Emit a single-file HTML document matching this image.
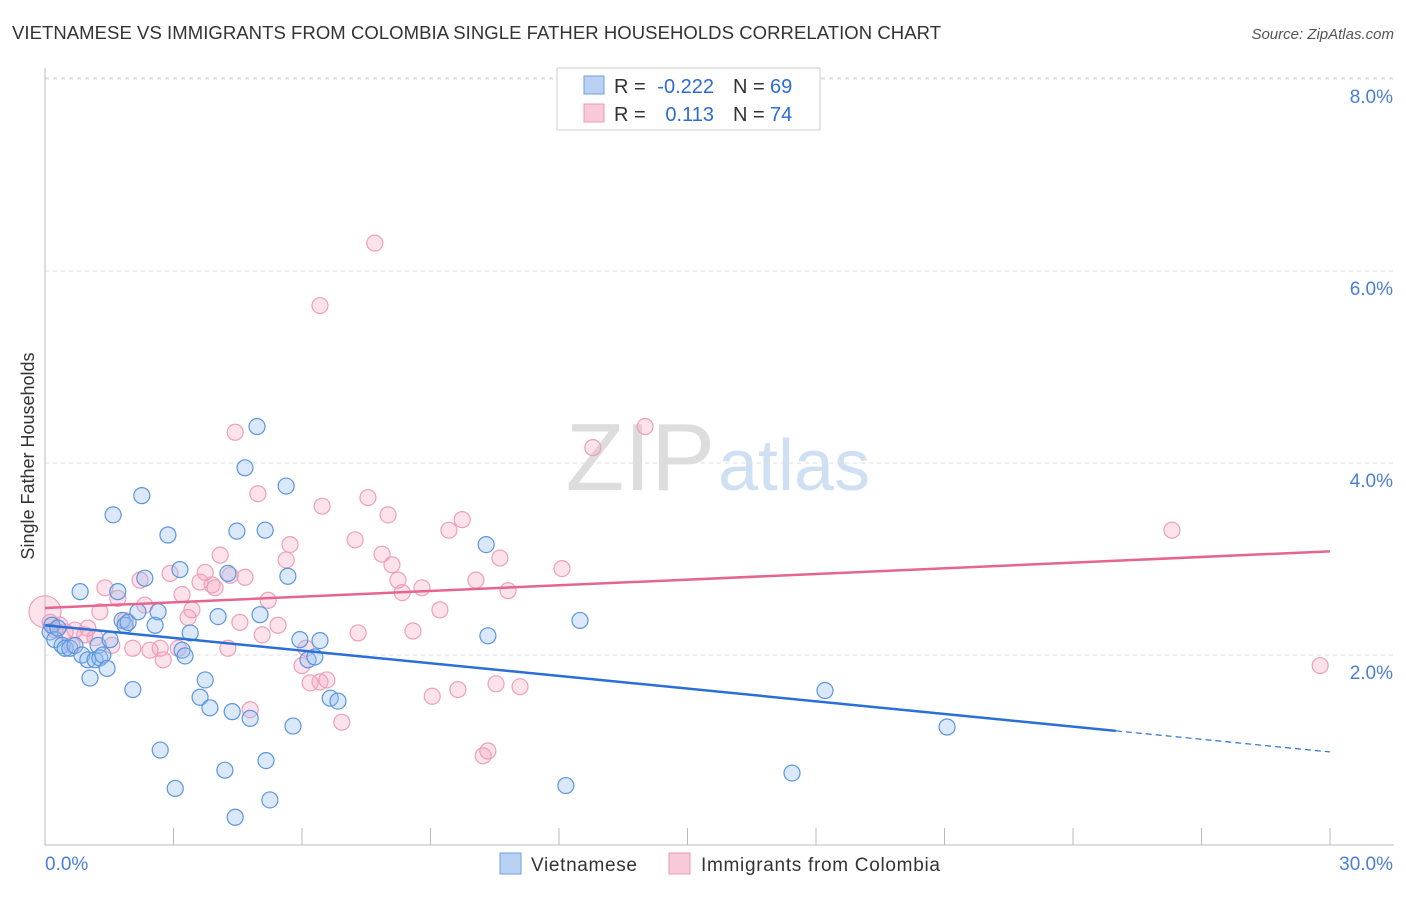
<!DOCTYPE html>
<html><head><meta charset="utf-8"><style>
body{margin:0;background:#fff;font-family:"Liberation Sans",sans-serif}
svg text{font-family:"Liberation Sans",sans-serif}
</style></head><body>
<svg id="chart" width="1406" height="892" xmlns="http://www.w3.org/2000/svg">
<text x="12" y="39" font-size="18.5" fill="#333" textLength="929">VIETNAMESE VS IMMIGRANTS FROM COLOMBIA SINGLE FATHER HOUSEHOLDS CORRELATION CHART</text>
<text x="1394" y="39" font-size="15" fill="#555" text-anchor="end" font-style="italic">Source: ZipAtlas.com</text>
<text x="715" y="490" font-size="96" fill="#ddd" text-anchor="end" font-family="Liberation Serif">ZIP</text>
<text x="718" y="490" font-size="72" fill="#cfe0f3">atlas</text>
<g id="grid"></g><g id="axes"></g><g id="pts"></g><g id="lines"></g>
<text transform="translate(34,456) rotate(-90)" font-size="18" fill="#333" text-anchor="middle">Single Father Households</text>
<g>
<rect x="557" y="68" width="263" height="62" fill="#fff" stroke="#ccc"/>
<rect x="584" y="76" width="20" height="18" fill="#b9d1f3" stroke="#6f9fe3"/>
<rect x="584" y="104" width="20" height="18" fill="#f8c9d8" stroke="#ec9ab4"/>
<text x="614" y="93" font-size="20" fill="#333">R =</text>
<text x="714" y="93" font-size="20" fill="#2d6bd4" text-anchor="end">-0.222</text>
<text x="733" y="93" font-size="20" fill="#333">N =</text>
<text x="770" y="93" font-size="20" fill="#2d6bd4">69</text>
<text x="614" y="121" font-size="20" fill="#333">R =</text>
<text x="714" y="121" font-size="20" fill="#2d6bd4" text-anchor="end">0.113</text>
<text x="733" y="121" font-size="20" fill="#333">N =</text>
<text x="770" y="121" font-size="20" fill="#2d6bd4">74</text>
</g>
<g>
<rect x="500" y="853" width="21" height="21" fill="#b9d1f3" stroke="#6f9fe3"/>
<text x="531" y="871" font-size="19" fill="#333" textLength="106">Vietnamese</text>
<rect x="669" y="853" width="21" height="21" fill="#f8c9d8" stroke="#ec9ab4"/>
<text x="701" y="871" font-size="19" fill="#333" textLength="239">Immigrants from Colombia</text>
</g>
<script>
const xTicks=[0,3,6,9,12,15,18,21,24,27,30];
const yTicks=[2,4,6,8];
const yTickLabels=["2.0%","4.0%","6.0%","8.0%"];
const blueX=[0.12,0.16,0.23,0.30,0.40,0.47,0.58,0.70,0.82,0.86,1.00,1.05,1.17,1.24,1.28,1.35,1.45,1.52,1.59,1.70,1.80,1.87,1.94,2.05,2.17,2.26,2.33,2.57,2.64,2.69,2.87,3.04,3.15,3.20,3.27,3.39,3.62,3.74,3.85,4.04,4.20,4.27,4.37,4.44,4.48,4.67,4.79,4.95,5.02,5.14,5.16,5.25,5.63,5.67,5.79,5.95,6.14,6.30,6.42,6.66,6.84,10.30,10.34,12.16,12.49,17.44,18.21,21.06];
const blueY=[2.24,2.31,2.16,2.28,2.10,2.07,2.07,2.10,2.66,2.00,1.95,1.76,1.95,2.10,1.97,2.00,1.86,2.16,3.46,2.66,2.36,2.31,2.34,1.64,2.45,3.66,2.80,2.31,2.45,1.01,3.25,0.61,2.89,2.05,1.99,2.23,1.56,1.74,1.45,2.40,0.80,2.85,1.41,0.31,3.29,3.95,1.34,4.38,2.42,3.30,0.90,0.49,3.76,2.82,1.26,2.16,1.95,1.98,2.15,1.55,1.52,3.15,2.20,0.64,2.36,0.77,1.63,1.25];
const pinkX=[0.0,0.12,0.23,0.35,0.47,0.63,0.70,0.93,1.00,1.17,1.28,1.40,1.56,1.70,1.87,2.05,2.22,2.33,2.45,2.69,2.76,2.92,3.11,3.20,3.34,3.43,3.62,3.74,3.90,3.97,4.09,4.27,4.32,4.44,4.55,4.67,4.79,4.97,5.07,5.21,5.44,5.63,5.72,6.00,6.09,6.19,6.42,6.47,6.58,6.93,7.24,7.31,7.54,7.70,7.87,8.01,8.10,8.24,8.34,8.59,8.80,9.04,9.22,9.43,9.64,9.74,10.06,10.23,10.34,10.53,10.62,10.81,11.09,12.07,12.79,14.01,26.31,29.77,6.42];
const pinkY=[2.45,2.34,2.26,2.31,2.24,2.10,2.26,2.21,2.28,2.18,2.45,2.70,2.10,2.59,2.36,2.07,2.78,2.52,2.05,2.07,1.95,2.85,2.07,2.63,2.39,2.47,2.76,2.86,2.73,2.70,3.04,2.07,2.83,4.32,2.34,2.81,1.43,3.68,2.21,2.57,2.31,2.99,3.15,1.89,2.07,1.71,1.72,3.55,1.74,1.30,3.20,2.23,3.64,6.29,3.05,3.46,2.94,2.78,2.65,2.25,2.70,1.57,2.47,3.30,1.64,3.41,2.78,0.95,1.00,1.70,3.01,2.67,1.67,2.90,4.16,4.38,3.30,1.89,5.64];
const blueTrendX=[0,25,30];
const blueTrendY=[2.31,1.21,0.99];
const pinkTrendX=[0,30];
const pinkTrendY=[2.49,3.08];
const X=v=>45+v*(1285/30);
const Y=v=>847-v*96;
const NS="http://www.w3.org/2000/svg";
function mk(tag,attrs,parent){const e=document.createElementNS(NS,tag);for(const k in attrs)e.setAttribute(k,attrs[k]);document.getElementById(parent).appendChild(e);return e;}
yTicks.forEach((t,i)=>{
 const g=mk('line',{x1:45,x2:1394,y1:Y(t),y2:Y(t),stroke:'#ddd','stroke-dasharray':'4,4'},'grid');
 
 
 const l=mk('text',{x:1393,y:Y(t)+24,'font-size':19,fill:'#4a7fd6','text-anchor':'end'},'axes');
 l.textContent=yTickLabels[i];
 
 
});
const ya=mk('line',{x1:45,x2:45,y1:68,y2:845,stroke:'#bbb'},'axes');


const xa=mk('line',{x1:45,x2:1394,y1:845,y2:845,stroke:'#bbb'},'axes');


xTicks.forEach(t=>{
 const k=mk('line',{x1:X(t),x2:X(t),y1:828,y2:845,stroke:'#bbb'},'axes');
 
 
});
const xl0=mk('text',{x:45,y:870,'font-size':19,fill:'#4a7fd6'},'axes');
xl0.textContent=xTicks[0].toFixed(1)+'%';


const xl1=mk('text',{x:1393,y:870,'font-size':19,fill:'#4a7fd6','text-anchor':'end'},'axes');
xl1.textContent=xTicks[xTicks.length-1].toFixed(1)+'%';


pinkX.forEach((v,i)=>{
 const c=mk('circle',{cx:X(v),cy:Y(pinkY[i]),r:i===0?16:8,fill:'rgba(244,160,190,0.3)',stroke:'#eda0b8','stroke-width':1.2},'pts');
 
 
});
blueX.forEach((v,i)=>{
 const c=mk('circle',{cx:X(v),cy:Y(blueY[i]),r:8,fill:'rgba(150,190,240,0.35)',stroke:'#5b95e0','stroke-width':1.2},'pts');
 
 
});
const b1=mk('line',{x1:X(blueTrendX[0]),y1:Y(blueTrendY[0]),x2:X(blueTrendX[1]),y2:Y(blueTrendY[1]),stroke:'#2a6fd6','stroke-width':2.5},'lines');


const b2=mk('line',{x1:X(blueTrendX[1]),y1:Y(blueTrendY[1]),x2:X(blueTrendX[2]),y2:Y(blueTrendY[2]),stroke:'#2a6fd6','stroke-width':1.2,'stroke-dasharray':'6,4'},'lines');


const p1=mk('line',{x1:X(pinkTrendX[0]),y1:Y(pinkTrendY[0]),x2:X(pinkTrendX[1]),y2:Y(pinkTrendY[1]),stroke:'#e6658f','stroke-width':2.5},'lines');


const topGrid=mk('line',{x1:45,x2:1394,y1:Y(8)-1,y2:Y(8)-1,stroke:'#ddd','stroke-dasharray':'4,4'},'grid');


</script>
</svg>
</body></html>
